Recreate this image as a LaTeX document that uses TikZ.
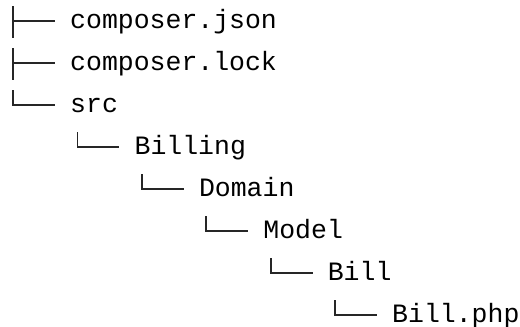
\documentclass[tikz,border=0pt]{standalone}
\usepackage{fontspec}
\setmonofont{Liberation Mono}
\begin{document}
\begin{tikzpicture}[x=1pt,y=-1pt,
  entry/.style={anchor=base west, inner sep=0pt, text=black,
                font=\ttfamily\fontsize{26.5}{30}\selectfont},
  branch/.style={draw=black!85, line width=1.8pt, line cap=butt}]
\useasboundingbox (0,0) rectangle (520,327);

% level / row / label / name
\foreach \lvl/\row/\txt/\nm in {
    0/0/composer.json/cj,
    0/1/composer.lock/cl,
    0/2/src/src,
    1/3/Billing/billing,
    2/4/Domain/domain,
    3/5/Model/model,
    4/6/Bill/bill,
    5/7/Bill.php/billphp}{
  \pgfmathsetmacro\xv{13+64.4*\lvl}
  \pgfmathsetmacro\yc{21+42*\row}
  \coordinate (\nm-top) at (\xv,\yc-15);
  \coordinate (\nm-elbow) at (\xv,\yc);
  \coordinate (\nm-tip) at (\xv+42,\yc);
  \coordinate (\nm-foot) at (\xv,\yc+17);
  \node[entry] (\nm) at (\xv+57,\yc+7) {\txt};
  \draw[branch] (\nm-top) -- (\nm-elbow) -- (\nm-tip);
}

% tee branches continue below their row
\draw[branch] (cj-elbow) -- (cj-foot);
\draw[branch] (cl-elbow) -- (cl-foot);
\end{tikzpicture}
\end{document}
